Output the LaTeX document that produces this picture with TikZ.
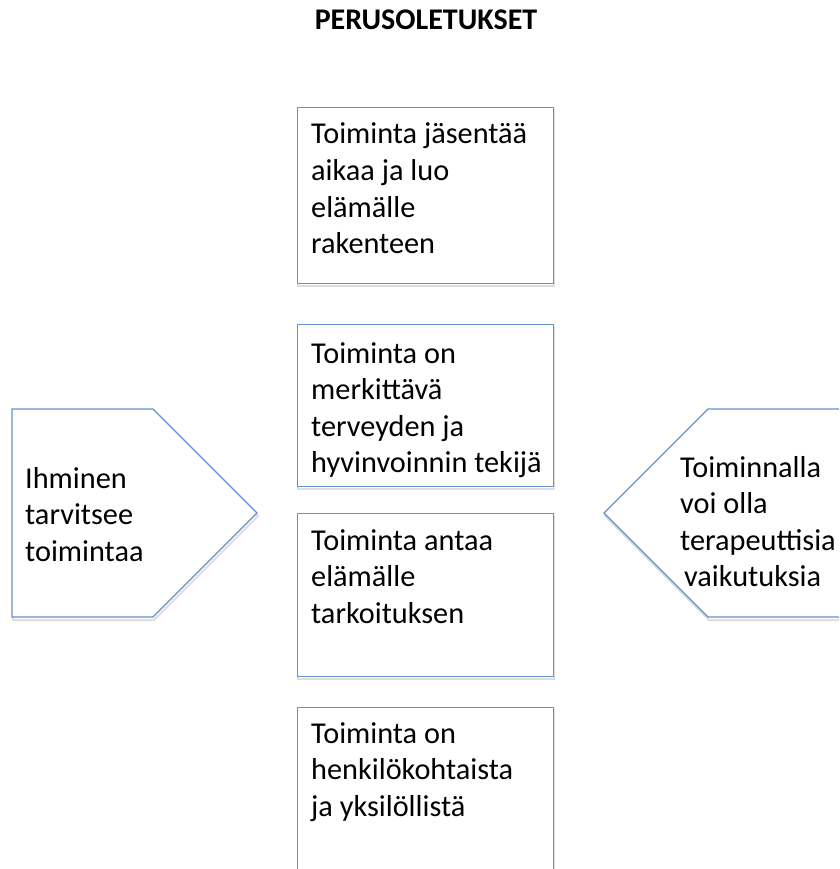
\documentclass[tikz,border=0pt]{standalone}
\usepackage{fontspec}
\setmainfont{Carlito}
\begin{document}
\begin{tikzpicture}[x=1pt,y=-1pt]
\definecolor{edge}{RGB}{100,145,205}
\definecolor{shade}{RGB}{222,222,222}
\tikzset{
  shapeline/.style={draw=edge,line width=1.2pt,fill=white},
  shadowline/.style={draw=shade,line width=2pt},
  txt/.style={inner sep=0pt,anchor=base west},
}
\newcommand{\bodytext}[1]{\parbox[t]{9cm}{\fontsize{30.3}{36.6}\selectfont\raggedright #1}}
\useasboundingbox (0,0) rectangle (839,869);
\clip (0,0) rectangle (839,869);
\fill[white] (0,0) rectangle (839,869);

% title
\node[inner sep=0pt,anchor=base] (title) at (426,30) {\fontsize{30}{34}\selectfont\bfseries PERUSOLETUKSET};

% shadows
\foreach \a/\b/\c/\d in {297/107/553/283, 297/324/553/486, 297/513/553/676, 297/707/553/900}{
  \draw[shadowline] (\a+1,\b+3) rectangle (\c+1,\d+3);
}
\draw[shadowline] (13,412) -- (154,412) -- (258,516) -- (154,620) -- (13,620) -- cycle;
\draw[shadowline] (851,412) -- (709,412) -- (605,516) -- (709,620) -- (851,620);

% boxes
\node[shapeline,rectangle,anchor=north west,minimum width=256pt,minimum height=176pt,inner sep=0pt] (b1) at (297,107) {};
\node[shapeline,rectangle,anchor=north west,minimum width=256pt,minimum height=162pt,inner sep=0pt] (b2) at (297,324) {};
\node[shapeline,rectangle,anchor=north west,minimum width=256pt,minimum height=163pt,inner sep=0pt] (b3) at (297,513) {};
\node[shapeline,rectangle,anchor=north west,minimum width=256pt,minimum height=200pt,inner sep=0pt] (b4) at (297,707) {};

% pentagons
\draw[shapeline] (12,409) coordinate (l1) -- (153,409) coordinate (l2) -- (257,513) coordinate (l3) -- (153,617) coordinate (l4) -- (12,617) coordinate (l5) -- cycle;
\draw[shapeline] (850,409) coordinate (r1) -- (708,409) coordinate (r2) -- (604,513) coordinate (r3) -- (708,617) coordinate (r4) -- (850,617) coordinate (r5) -- cycle;

% texts
\node[txt] (t1) at (311,144) {\bodytext{Toiminta jäsentää\\aikaa ja luo\\elämälle\\rakenteen}};
\node[txt] (t2) at (311,363) {\bodytext{Toiminta on\\merkittävä\\terveyden ja\\hyvinvoinnin tekijä}};
\node[txt] (t3) at (311,550) {\bodytext{Toiminta antaa\\elämälle\\tarkoituksen}};
\node[txt] (t4) at (311,743) {\bodytext{Toiminta on\\henkilökohtaista\\ja yksilöllistä}};
\node[txt] (tl) at (25,488) {\bodytext{Ihminen\\tarvitsee\\toimintaa}};
\node[txt] (tr) at (680,477) {\bodytext{Toiminnalla\\voi olla\\terapeuttisia\\\hspace*{4pt}vaikutuksia}};
\end{tikzpicture}
\end{document}
